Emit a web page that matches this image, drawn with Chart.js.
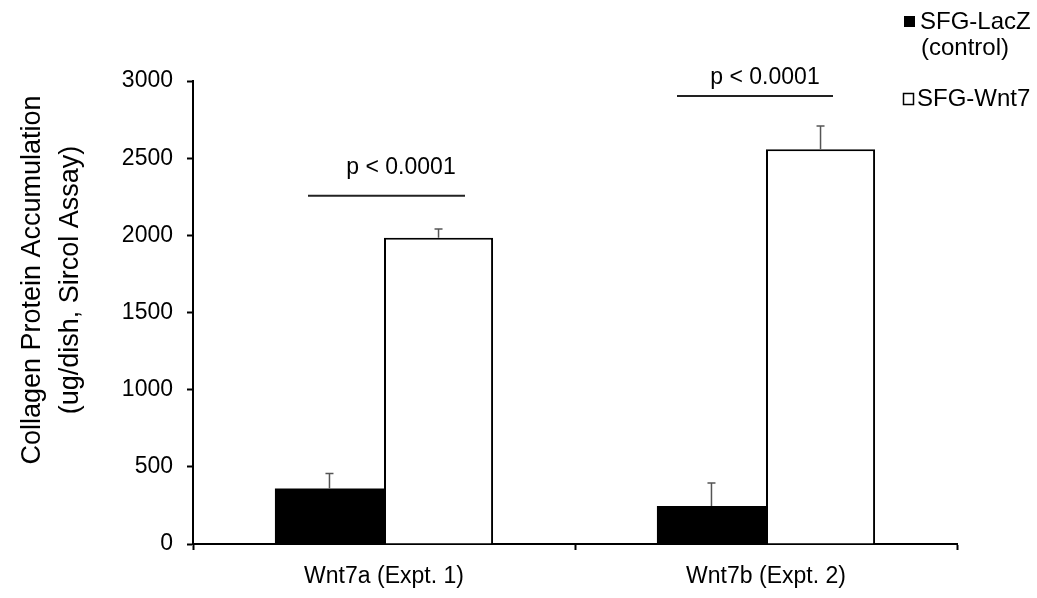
<!DOCTYPE html>
<html>
<head>
<meta charset="utf-8">
<script src="https://cdn.jsdelivr.net/npm/chart.js@4.4.1/dist/chart.umd.min.js"></script>
<style>
    html, body { margin: 0; padding: 0; background: #fff; }
    #wrap { width: 1037px; height: 598px; position: relative; }
</style>
</head>
<body>
<div id="wrap"><canvas id="chart"></canvas></div>
<script>
// data
var categories = ['Wnt7a (Expt. 1)', 'Wnt7b (Expt. 2)'];
var seriesNames = ['SFG-LacZ (control)', 'SFG-Wnt7'];
var legendLines = [['SFG-LacZ', '(control)'], ['SFG-Wnt7']];
var lacZ = [360, 247];
var lacZErr = [97, 148];
var wnt7 = [1985, 2558];
var wnt7Err = [56, 151];
var yTicks = [0, 500, 1000, 1500, 2000, 2500, 3000];
var pLabels = ['p < 0.0001', 'p < 0.0001'];
var pLineAt = [2257, 2903];   // height of the bracket line (axis units)
var pTextAt = [2437, 3020];   // height of the p text (axis units)
var yTitle = ['Collagen Protein Accumulation', '(ug/dish, Sircol Assay)'];

var FONT = "'Liberation Sans', Arial, sans-serif";
Chart.defaults.font.family = FONT;
Chart.defaults.color = '#000';

// upper error bars
var errorBars = {
    id: 'errorBars',
    afterDatasetsDraw: function (chart) {
        var ctx = chart.ctx, y = chart.scales.y;
        var errs = [lacZErr, wnt7Err];
        ctx.save();
        ctx.strokeStyle = '#555';
        ctx.lineWidth = 1.5;
        chart.data.datasets.forEach(function (ds, di) {
            chart.getDatasetMeta(di).data.forEach(function (bar, i) {
                var top = y.getPixelForValue(ds.data[i] + errs[di][i]);
                ctx.beginPath();
                ctx.moveTo(bar.x, bar.y);
                ctx.lineTo(bar.x, top);
                ctx.moveTo(bar.x - 4, top);
                ctx.lineTo(bar.x + 4, top);
                ctx.stroke();
            });
        });
        ctx.restore();
    }
};

// p-value brackets, legend and y title
var extras = {
    id: 'extras',
    afterDraw: function (chart) {
        var ctx = chart.ctx, x = chart.scales.x, y = chart.scales.y;
        var lineSpan = [[-76, 81], [-89, 67]];
        var textShift = [17, -1];
        ctx.save();
        // p brackets
        pLabels.forEach(function (lbl, i) {
            var cx = x.getPixelForValue(i);
            var ly = y.getPixelForValue(pLineAt[i]);
            ctx.strokeStyle = '#222';
            ctx.lineWidth = 2;
            ctx.beginPath();
            ctx.moveTo(cx + lineSpan[i][0], ly);
            ctx.lineTo(cx + lineSpan[i][1], ly);
            ctx.stroke();
            ctx.font = '23px ' + FONT;
            ctx.fillStyle = '#000';
            ctx.textAlign = 'center';
            ctx.textBaseline = 'middle';
            ctx.fillText(lbl, cx + textShift[i], y.getPixelForValue(pTextAt[i]));
        });

        // legend
        ctx.textAlign = 'left';
        ctx.textBaseline = 'middle';
        ctx.font = '24px ' + FONT;
        ctx.fillStyle = '#000';
        ctx.fillRect(904, 16, 11, 11);
        ctx.fillText(legendLines[0][0], 920, 22);
        ctx.fillText(legendLines[0][1], 921, 48);
        ctx.strokeStyle = '#000';
        ctx.lineWidth = 1.5;
        ctx.strokeRect(903.5, 93.5, 10, 11);
        ctx.fillText(legendLines[1][0], 917, 99);

        // y axis title, two rotated lines
        ctx.translate(0, 280);
        ctx.rotate(-Math.PI / 2);
        ctx.font = '27px ' + FONT;
        ctx.textAlign = 'center';
        ctx.textBaseline = 'alphabetic';
        ctx.fillText(yTitle[0], 0, 40);
        ctx.fillText(yTitle[1], 0, 78);
        ctx.restore();
    }
};

var ctx = document.getElementById('chart').getContext('2d');
var chart = new Chart(ctx, {
    type: 'bar',
    data: {
        labels: categories,
        datasets: [{
            label: seriesNames[0],
            data: lacZ,
            backgroundColor: '#000',
            borderWidth: 0
        }, {
            label: seriesNames[1],
            data: wnt7,
            backgroundColor: '#fff',
            borderColor: '#000',
            borderWidth: 2
        }]
    },
    options: {
        responsive: true,
        maintainAspectRatio: false,
        animation: false,
        layout: { padding: { top: 81, right: 80, left: 0, bottom: 0 } },
        datasets: { bar: { categoryPercentage: 0.571, barPercentage: 1 } },
        plugins: {
            legend: { display: false },
            tooltip: { enabled: false }
        },
        scales: {
            x: {
                grid: { display: true, drawOnChartArea: false, tickLength: 6, tickWidth: 2, color: '#000' },
                border: { display: true, color: '#000', width: 2 },
                ticks: { font: { size: 23 }, padding: 13, color: '#000' },
                afterFit: function (s) { s.height = 54; }
            },
            y: {
                min: 0,
                max: 3000,
                afterBuildTicks: function (s) {
                    s.ticks = yTicks.map(function (v) { return { value: v }; });
                },
                grid: { display: true, drawOnChartArea: false, tickLength: 6, tickWidth: 2, color: '#000' },
                border: { display: true, color: '#000', width: 2 },
                ticks: {
                    font: { size: 23 },
                    padding: 14,
                    color: '#000',
                    callback: function (v) { return String(v); }
                },
                afterFit: function (s) { s.width = 193; }
            }
        }
    },
    plugins: [errorBars, extras]
});
</script>
</body>
</html>
